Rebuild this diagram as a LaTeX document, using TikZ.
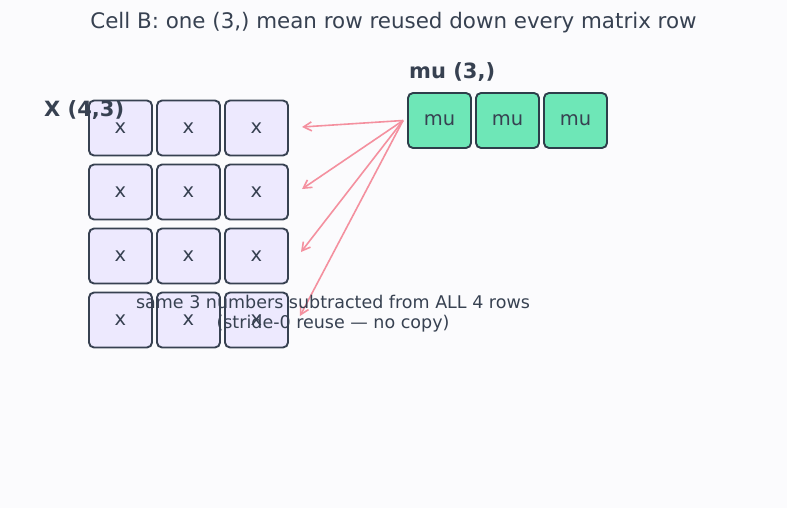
\documentclass[tikz,border=0pt]{standalone}
\usepackage{fontspec}
\setmainfont{DejaVu Sans}
\usepackage{tikz}
\usetikzlibrary{arrows.meta}
\usetikzlibrary{calc}

\definecolor{inkgray}{HTML}{374151}
\definecolor{cellfill}{HTML}{EDE9FE}
\definecolor{mufill}{HTML}{6EE7B7}
\definecolor{muline}{HTML}{2D3E4A}
\definecolor{arrowpink}{HTML}{F4909F}
\definecolor{bgpaper}{HTML}{FBFBFD}

\tikzset{
  xcell/.style={draw=inkgray, fill=cellfill, line width=1.9pt, rounded corners=5pt,
                minimum width=63pt, minimum height=55pt, inner sep=0pt,
                text=inkgray, font=\fontsize{19.5}{22}\selectfont},
  mucell/.style={xcell, draw=muline, fill=mufill},
  bcast/.style={-{Straight Barb[length=8pt,width=9pt]}, draw=arrowpink, line width=1.6pt},
  tag/.style={text=inkgray, font=\bfseries\fontsize{21}{24}\selectfont, inner sep=0pt}
}

\begin{document}
\begin{tikzpicture}[x=1pt, y=-1pt]
    \useasboundingbox[fill=bgpaper] (0,0) rectangle (787,508);

    % title
    \node[text=inkgray, font=\fontsize{21.4}{25}\selectfont] (title) at (393.5,23)
      {Cell B: one (3,) mean row reused down every matrix row};

    % the matrix X, 4 rows by 3 columns
    \foreach \r/\y in {1/128, 2/192, 3/256, 4/320} {
      \node[xcell] (x\r1) at (120.5,\y) {x};
      \node[xcell] (x\r2) at (188.5,\y) {x};
      \node[xcell] (x\r3) at (256.5,\y) {x};
    }
    \node[tag, anchor=west] (xname) at (44,110.5) {X (4,3)};

    % the mean row mu
    \node[mucell] (mu1) at (439.5,120.5) {mu};
    \node[mucell] (mu2) at (507.5,120.5) {mu};
    \node[mucell] (mu3) at (575.5,120.5) {mu};
    \node[tag, anchor=west] (muname) at (409,72.5) {mu (3,)};

    % one arrow into every row
    \coordinate (hit1) at (302,127);
    \coordinate (hit2) at (302,189);
    \coordinate (hit3) at (301,252);
    \coordinate (hit4) at (300,316);
    \foreach \r in {1,...,4}
      \draw[bcast] ([xshift=-4pt]mu1.west) -- (hit\r);

    % note
    \node[text=inkgray, font=\fontsize{17.5}{20}\selectfont, align=center] (note) at (333,313.5)
      {same 3 numbers subtracted from ALL 4 rows\\(stride-0 reuse — no copy)};
\end{tikzpicture}
\end{document}
